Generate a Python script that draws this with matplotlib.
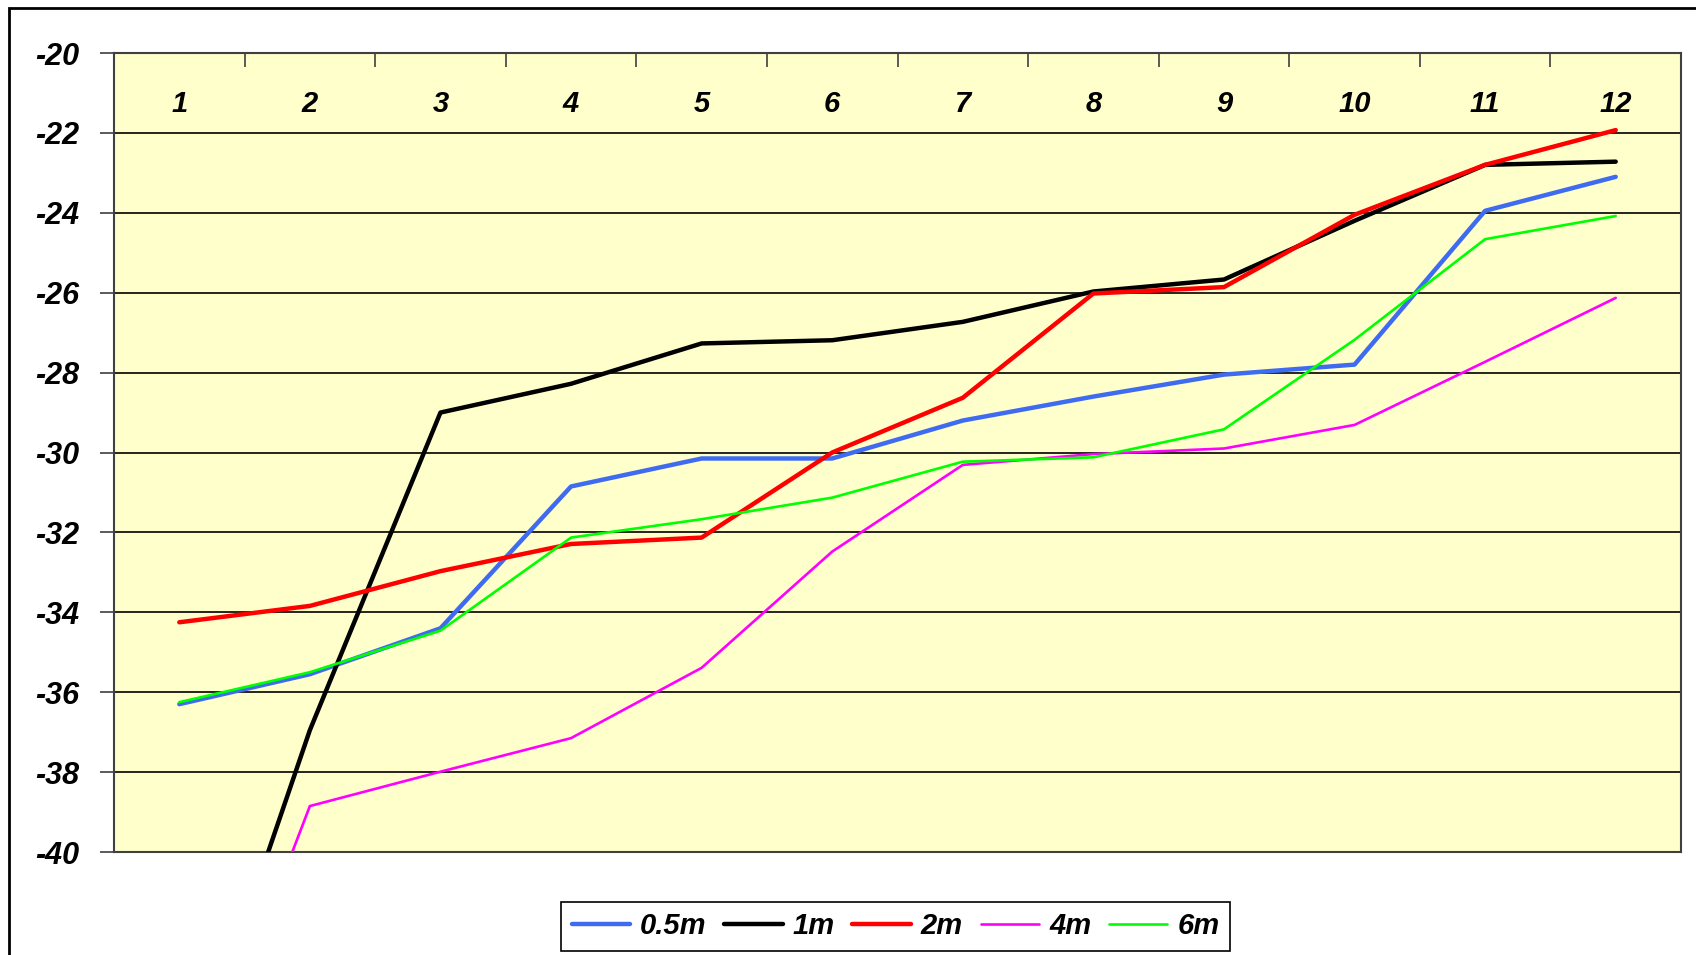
import matplotlib.pyplot as plt
from matplotlib.patches import Rectangle

plt.rcParams['font.family'] = ['Liberation Sans', 'DejaVu Sans']

categories = ['1', '2', '3', '4', '5', '6', '7', '8', '9', '10', '11', '12']
x = list(range(1, 13))

s_05m = [-36.3, -35.55, -34.4, -30.85, -30.15, -30.15, -29.2, -28.6, -28.05, -27.8, -23.95, -23.1]
s_1m = [-46.5, -36.95, -29.0, -28.28, -27.27, -27.19, -26.73, -25.97, -25.67, -24.2, -22.8, -22.72]
s_2m = [-34.25, -33.84, -32.97, -32.29, -32.13, -30.0, -28.63, -26.02, -25.86, -24.05, -22.8, -21.93]
s_4m = [-47.4, -38.85, -37.99, -37.15, -35.39, -32.48, -30.31, -30.04, -29.9, -29.31, -27.73, -26.13]
s_6m = [-36.25, -35.5, -34.46, -32.13, -31.67, -31.13, -30.23, -30.12, -29.42, -27.18, -24.66, -24.08]

series = [
    ('0.5m', s_05m, '#3F6BF0', 3.2),
    ('1m', s_1m, '#000000', 3.2),
    ('2m', s_2m, '#FF0000', 3.2),
    ('4m', s_4m, '#FF00FF', 1.9),
    ('6m', s_6m, '#00FF00', 1.9),
]

fig = plt.figure(figsize=(16.96, 9.55), dpi=100)
ax = fig.add_axes([114/1696, 1 - 852/955, (1681 - 114)/1696, (852 - 53)/955])
ax.set_facecolor('#FFFFCC')

# outer chart border (runs off the right and bottom edge)
fig.patches.append(Rectangle((9/1696, -0.2), 1.2, 1.2 - 8/955, transform=fig.transFigure,
                             fill=False, edgecolor='black', lw=2, clip_on=False))

for name, vals, col, lw in series:
    ax.plot(x, vals, color=col, lw=lw, label=name, solid_capstyle='round', zorder=3)

ax.set_xlim(0.5, 12.5)
ax.set_ylim(-40, -20)
ax.set_yticks(range(-40, -19, 2))
ax.set_yticklabels([str(v) for v in range(-40, -19, 2)], fontsize=22,
                   fontweight='bold', fontstyle='italic')
ax.tick_params(axis='y', length=10, width=1.2, color='#404040', pad=15)
ax.yaxis.grid(True, color='black', lw=1.2)
ax.set_axisbelow(True)

# category axis sits on top, labels inside the plot area
ax.set_xticks(x)
ax.set_xticklabels(categories, fontsize=21, fontweight='bold', fontstyle='italic')
ax.xaxis.tick_top()
ax.tick_params(axis='x', which='major', length=0, pad=-47)
ax.set_xticks([i + 0.5 for i in range(1, 12)], minor=True)
ax.tick_params(axis='x', which='minor', direction='in', length=10, width=1.2,
               color='#404040', top=True, bottom=False)

for sp in ax.spines.values():
    sp.set_color('#404040')
    sp.set_linewidth(1.5)

leg = fig.legend(loc='center', bbox_to_anchor=(0.528, 0.030), ncol=5, fancybox=False,
                 edgecolor='black', framealpha=1, handlelength=2.0, columnspacing=0.6,
                 handletextpad=0.35, borderpad=0.35,
                 prop={'size': 21, 'weight': 'bold', 'style': 'italic'})
leg.get_frame().set_linewidth(1.2)

plt.savefig('out.png', dpi=100)
